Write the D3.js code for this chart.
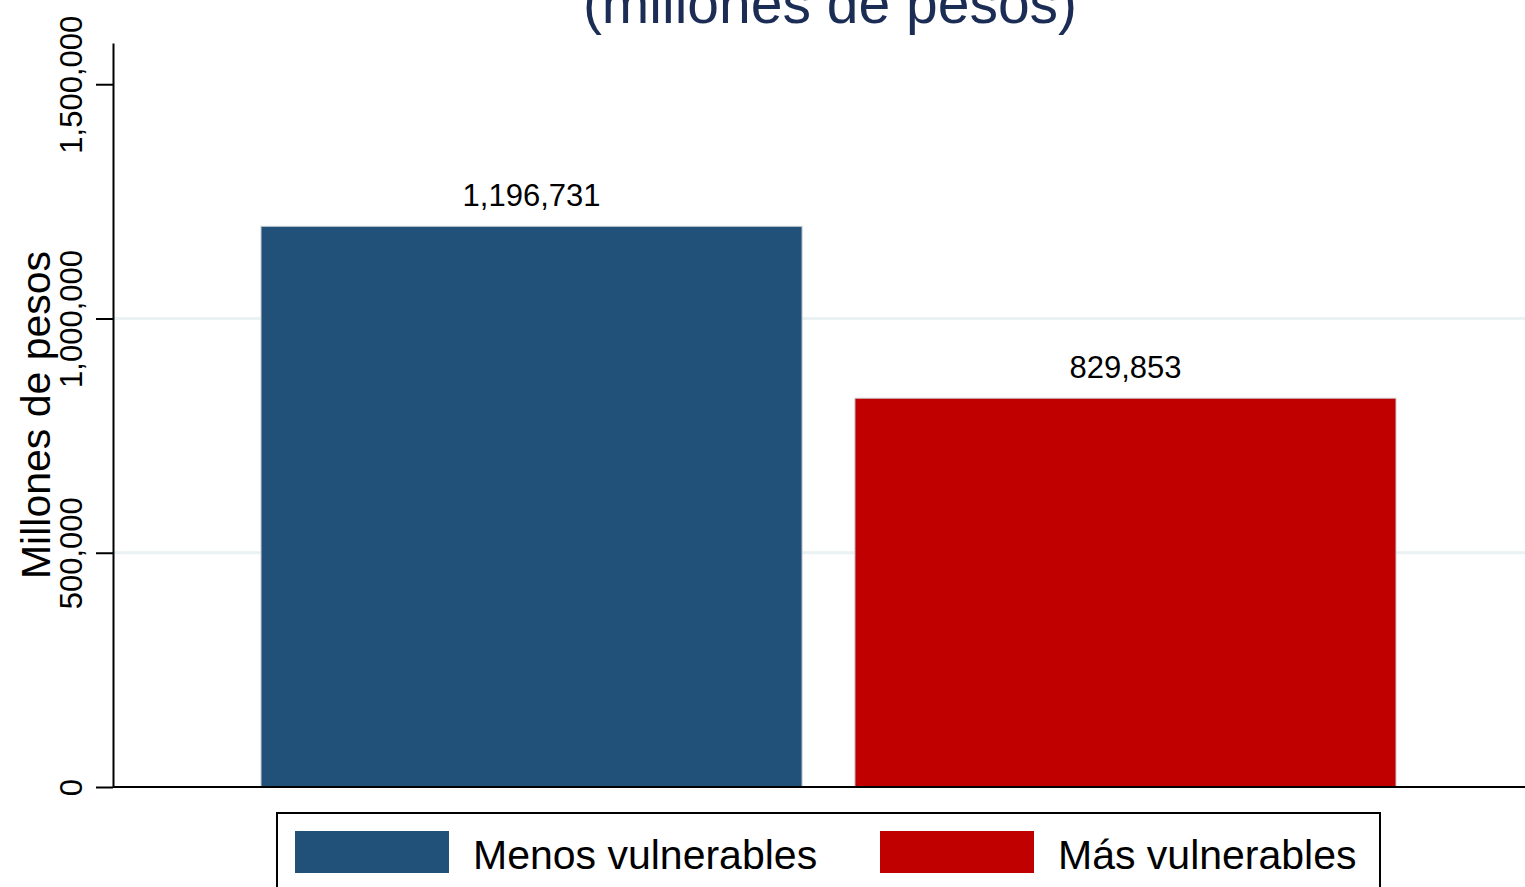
<!DOCTYPE html>
<html>
<head>
<meta charset="utf-8">
<script src="https://cdn.jsdelivr.net/npm/d3@7"></script>
<style>
  html, body { margin: 0; padding: 0; background: #fff; overflow: hidden; }
  svg { display: block; font-family: "Liberation Sans", Arial, sans-serif; }
</style>
</head>
<body>
<svg id="chart" width="1525" height="887"></svg>
<script>
// datos
const categories = ["Menos vulnerables", "Más vulnerables"];
const values = [1196731, 829853];
const colors = ["#215078", "#c00000"];
const yTicks = [0, 500000, 1000000, 1500000];
const gridTicks = [500000, 1000000];
const titleText = "(millones de pesos)";
const yLabel = "Millones de pesos";

const svg = d3.select('#chart');
const fmt = d3.format(',');

const y = d3.scaleLinear().domain([0, 1588000]).range([787, 43]);
const x = d3.scaleBand().domain(categories).range([261, 1396]).paddingInner(0.089);
const xLeft = 113, xRight = 1525;

// grid
svg.append('g').selectAll('line').data(gridTicks).join('line')
  .attr('x1', xLeft).attr('x2', xRight)
  .attr('y1', d => y(d)).attr('y2', d => y(d))
  .attr('stroke', '#eaf2f3').attr('stroke-width', 3);

// barras
svg.append('g').selectAll('rect').data(values).join('rect')
  .attr('x', (d, i) => x(categories[i]))
  .attr('width', x.bandwidth())
  .attr('y', d => y(d))
  .attr('height', d => y(0) - y(d))
  .attr('fill', (d, i) => colors[i])
  .attr('stroke', '#c8ccd2').attr('stroke-width', 1);

// etiquetas de valor
svg.append('g').selectAll('text').data(values).join('text')
  .attr('x', (d, i) => x(categories[i]) + x.bandwidth() / 2)
  .attr('y', d => y(d) - 20)
  .attr('text-anchor', 'middle')
  .style('font-size', '31px')
  .text(d => fmt(d));

// eje y
const yAxis = svg.append('g').attr('transform', `translate(${xLeft},0)`)
  .call(d3.axisLeft(y).tickValues(yTicks).tickFormat(fmt).tickSize(17).tickSizeOuter(0));
yAxis.select('.domain').attr('stroke', '#000').attr('stroke-width', 2);
yAxis.selectAll('.tick line').attr('stroke', '#000').attr('stroke-width', 2);
yAxis.selectAll('.tick text')
  .attr('transform', 'rotate(-90)')
  .attr('x', 0).attr('y', -31).attr('dy', 0)
  .attr('text-anchor', 'middle')
  .attr('fill', '#000')
  .style('font-size', '31px')
  .style('font-family', '"Liberation Sans", Arial, sans-serif');

// línea base
svg.append('line')
  .attr('x1', xLeft).attr('x2', xRight)
  .attr('y1', y(0)).attr('y2', y(0))
  .attr('stroke', '#000').attr('stroke-width', 2);

// título eje y
svg.append('text')
  .attr('transform', `translate(50,${(y.range()[0] + y.range()[1]) / 2}) rotate(-90)`)
  .attr('text-anchor', 'middle')
  .style('font-size', '41px')
  .text(yLabel);

// título
svg.append('text')
  .attr('x', 830).attr('y', 23)
  .attr('text-anchor', 'middle')
  .attr('fill', '#1c2d55')
  .style('font-size', '57px')
  .text(titleText);

// leyenda
const lg = svg.append('g');
lg.append('rect')
  .attr('x', 277).attr('y', 813).attr('width', 1103).attr('height', 120)
  .attr('fill', '#fff').attr('stroke', '#000').attr('stroke-width', 2);
const legX = [295, 880];
const items = lg.selectAll('g.item').data(categories).join('g').attr('class', 'item')
  .attr('transform', (d, i) => `translate(${legX[i]},831)`);
items.append('rect')
  .attr('width', 154).attr('height', 42)
  .attr('fill', (d, i) => colors[i]);
items.append('text')
  .attr('x', 178).attr('y', 38)
  .style('font-size', '41px')
  .text(d => d);
</script>
</body>
</html>
